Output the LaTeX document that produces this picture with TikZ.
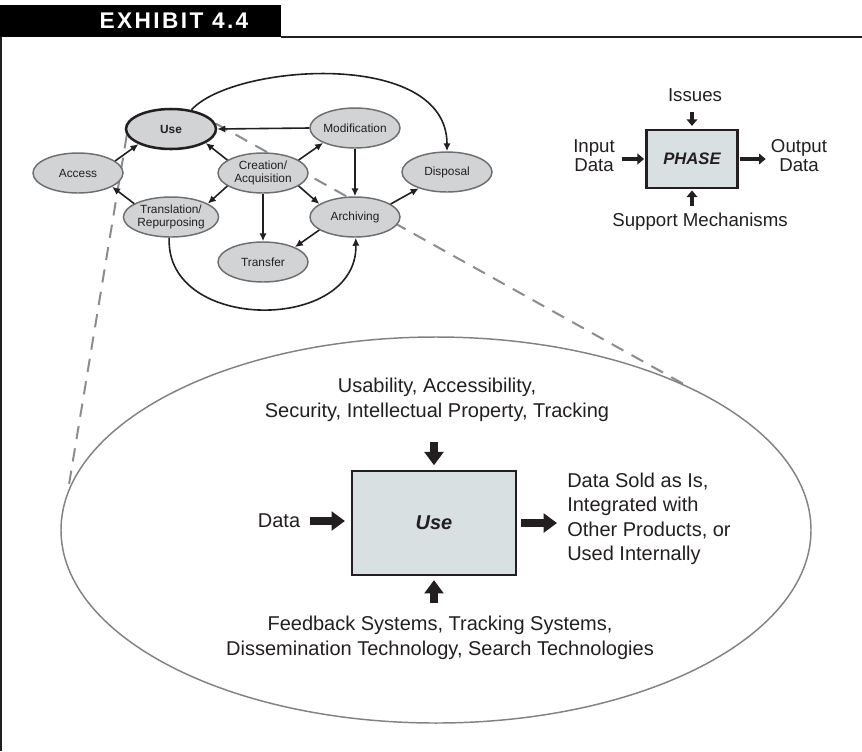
\documentclass[tikz,border=0pt]{standalone}
\usepackage{fontspec}
\setmainfont{Liberation Sans}
\newfontfamily\headfont[LetterSpace=10.5]{Liberation Sans}
\usetikzlibrary{shapes.geometric,arrows.meta,calc}
\pgfdeclarelayer{background}
\pgfsetlayers{background,main}

\definecolor{inkdark}{HTML}{231F20}
\definecolor{ovalfill}{HTML}{D1D3D4}
\definecolor{ovaledge}{HTML}{6D6E71}
\definecolor{boxfill}{HTML}{D8E0E1}
\definecolor{dashgray}{HTML}{8A8C8E}
\definecolor{rimgray}{HTML}{808285}

\tikzset{every picture/.style={line width=0.75pt}}
\tikzset{
  stage/.style={ellipse, draw=ovaledge, line width=1.1pt, fill=ovalfill, inner sep=0pt,
    minimum width=67.5pt, minimum height=30pt, align=center, text=inkdark,
    font=\fontsize{8.9}{10.3}\selectfont},
  usestage/.style={stage, draw=inkdark, line width=1.9pt, font=\fontsize{8.9}{10.3}\selectfont\bfseries},
  flow/.style={draw=inkdark, line width=1.2pt, -{Latex[length=6pt,width=5.5pt]}},
  zoomline/.style={draw=dashgray, line width=1.5pt, dash pattern=on 10pt off 7pt},
  phasebox/.style={rectangle, draw=inkdark, line width=1.6pt, fill=boxfill, text=inkdark},
  bigtext/.style={inner sep=0pt, align=center, text=inkdark, font=\fontsize{15}{18.6}\selectfont},
  insettext/.style={inner sep=0pt, align=center, text=inkdark, font=\fontsize{14}{14.3}\selectfont},
  blockarrow/.style={draw=inkdark, line width=6pt, -{Triangle[length=10pt,width=14pt]}},
  smallarrow/.style={draw=inkdark, line width=3.6pt, -{Triangle[length=5pt,width=8pt]}},
  frameline/.style={draw=inkdark, line width=1.1pt}
}

\begin{document}
\begin{tikzpicture}[x=0.75pt,y=0.75pt,yscale=-1,xscale=1]
	\useasboundingbox (0,0) rectangle (862,751);
	
	%Header bar and frame
	\fill[black] (0,5) rectangle (281,37);
	\node[text=white, inner sep=0pt, font=\headfont\bfseries\fontsize{17}{18}\selectfont] (exhibit) at (174,21) {EXHIBIT 4.4};
	\draw[frameline] (281,37) -- (862,37);
	\draw[frameline] (1,37) -- (1,751);
	
	%Lifecycle stages
	\node[usestage] (use) at (171,129) {Use};
	\node[stage] (modif) at (355,128) {Modification};
	\node[stage] (access) at (78,173) {Access};
	\node[stage] (create) at (263,173) {Creation/\\Acquisition};
	\node[stage] (dispose) at (447,172) {Disposal};
	\node[stage] (transl) at (171,217) {Translation/\\Repurposing};
	\node[stage] (archive) at (355,217) {Archiving};
	\node[stage] (transfer) at (263,262) {Transfer};
	
	%Straight Lines
	\draw[flow] (modif.west) -- (use.east);
	\draw[flow] (create.160) -- (use.-22);
	\draw[flow] (create.20) -- (modif.-155);
	\draw[flow] (create.-160) -- (transl.20);
	\draw[flow] (create.south) -- (transfer.north);
	\draw[flow] (create.-20) -- (archive.160);
	\draw[flow] (modif.south) -- (archive.north);
	\draw[flow] (archive.-160) -- (transfer.25);
	\draw[flow] (archive.20) -- (dispose.-150);
	\draw[flow] (access.18) -- (use.-155);
	\draw[flow] (transl.160) -- (access.-22);
	%Curve Lines
	\draw[flow] (use.43) .. controls (232,64) and (447,48) .. (dispose.north);
	\draw[flow] (transl.-95) .. controls (165,333) and (358,333) .. (archive.-88);
	
	%Shape: Ellipse (close-up of Use)
	\node[ellipse, draw=rimgray, line width=1.1pt, minimum width=562.5pt, minimum height=289.5pt] (closeup) at (436,530) {};
	
	\begin{pgfonlayer}{background}
	\draw[zoomline] (use.-172) -- (closeup.174);
	\draw[zoomline] (use.7) -- (closeup.30);
	\end{pgfonlayer}
	
	%Use phase
	\node[phasebox, minimum width=123pt, minimum height=78pt, font=\fontsize{15}{18}\selectfont\bfseries\itshape] (usebox) at (434,523) {Use};
	% Text Node
	\node[bigtext] (usein) at (279,521) {Data};
	% Text Node
	\node[bigtext, align=left, anchor=west, font=\fontsize{15}{18.4}\selectfont] (useout) at (567,519) {Data Sold as Is,\\Integrated with\\Other Products, or\\Used Internally};
	% Text Node
	\node[bigtext] (useissues) at (437,400) {Usability, Accessibility,\\Security, Intellectual Property, Tracking};
	% Text Node
	\node[bigtext] (usesupport) at (440,638) {Feedback Systems, Tracking Systems,\\Dissemination Technology, Search Technologies};
	
	\draw[blockarrow, shorten <=7.5pt, shorten >=4.5pt] (usein.east) -- (usein.east -| usebox.west);
	\draw[blockarrow, shorten <=3pt, shorten >=7.5pt] (usebox.east) -- (usebox.east -| useout.west);
	\draw[blockarrow, shorten <=15pt, shorten >=3.5pt] (usebox.north |- useissues.south) -- (usebox.north);
	\draw[blockarrow, shorten <=9.5pt, shorten >=3pt] (usebox.south |- usesupport.north) -- (usebox.south);
	
	%Legend phase
	\node[phasebox, minimum width=68.25pt, minimum height=43.5pt, font=\fontsize{12.5}{14}\selectfont\bfseries\itshape] (phase) at (692,159) {PHASE};
	% Text Node
	\node[insettext] (phasein) at (594,156) {Input\\Data};
	% Text Node
	\node[insettext] (phaseout) at (799,156) {Output\\Data};
	% Text Node
	\node[insettext] (phaseissues) at (695,95) {Issues};
	% Text Node
	\node[insettext] (phasesupport) at (700,222) {Support Mechanisms};
	
	\draw[smallarrow, shorten <=5pt, shorten >=1pt] (phase.west -| phasein.east) -- (phase.west);
	\draw[smallarrow, shorten <=0.75pt, shorten >=3.75pt] (phase.east) -- (phase.east -| phaseout.west);
	\draw[smallarrow, shorten <=7.5pt, shorten >=2.25pt] (phase.north |- phaseissues.south) -- (phase.north);
	\draw[smallarrow, shorten <=5.5pt, shorten >=1pt] (phase.south |- phasesupport.north) -- (phase.south);
	
\end{tikzpicture}
\end{document}
